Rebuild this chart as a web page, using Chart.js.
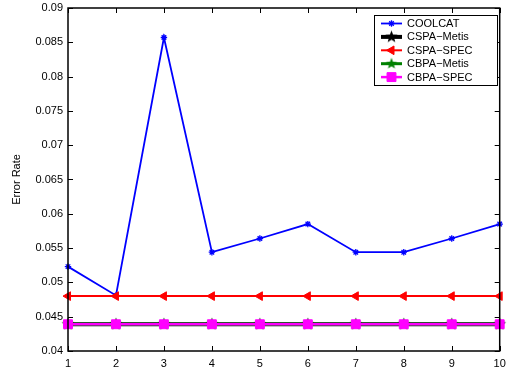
<!DOCTYPE html>
<html>
<head>
<meta charset="utf-8">
<script src="https://cdn.jsdelivr.net/npm/chart.js@4/dist/chart.umd.min.js"></script>
<style>
  html, body { margin: 0; padding: 0; background: #fff; }
  #wrap { width: 507px; height: 375px; }
</style>
</head>
<body>
<div id="wrap"><canvas id="c" width="507" height="375"></canvas></div>
<script>
// data
const runs = ['1', '2', '3', '4', '5', '6', '7', '8', '9', '10'];
const coolcat   = [0.0523, 0.0481, 0.0857, 0.0544, 0.0564, 0.0585, 0.0544, 0.0544, 0.0564, 0.0585];
const cspaMetis = [0.0439, 0.0439, 0.0439, 0.0439, 0.0439, 0.0439, 0.0439, 0.0439, 0.0439, 0.0439];
const cspaSpec  = [0.0480, 0.0480, 0.0480, 0.0480, 0.0480, 0.0480, 0.0480, 0.0480, 0.0480, 0.0480];
const cbpaMetis = [0.0439, 0.0439, 0.0439, 0.0439, 0.0439, 0.0439, 0.0439, 0.0439, 0.0439, 0.0439];
const cbpaSpec  = [0.0439, 0.0439, 0.0439, 0.0439, 0.0439, 0.0439, 0.0439, 0.0439, 0.0439, 0.0439];
const yTicks = [0.04, 0.045, 0.05, 0.055, 0.06, 0.065, 0.07, 0.075, 0.08, 0.085, 0.09];

const FONT = '"Liberation Sans", Arial, sans-serif';

// filled pentagram as a marker image
function pentagram(r, color) {
  const cv = document.createElement('canvas');
  cv.width = cv.height = Math.ceil(r * 2 + 2);
  const g = cv.getContext('2d');
  const c = cv.width / 2;
  g.beginPath();
  for (let i = 0; i < 10; i++) {
    const rr = i % 2 === 0 ? r : r * 0.42;
    const a = -Math.PI / 2 + i * Math.PI / 5;
    const px = c + rr * Math.cos(a), py = c + rr * Math.sin(a);
    i === 0 ? g.moveTo(px, py) : g.lineTo(px, py);
  }
  g.closePath();
  g.fillStyle = color;
  g.fill();
  return cv;
}

const blackStar = pentagram(6.5, '#000000');
const greenStar = pentagram(6, '#008000');

// matlab style box, inward ticks and the legend
const boxPlugin = {
  id: 'box',
  afterDraw(chart) {
    const { ctx, chartArea: a, scales } = chart;
    ctx.save();
    ctx.strokeStyle = '#000';
    ctx.lineWidth = 1;
    ctx.beginPath();
    runs.forEach((_, i) => {
      const px = Math.round(scales.x.getPixelForValue(i)) + 0.5;
      ctx.moveTo(px, a.bottom); ctx.lineTo(px, a.bottom - 5);
      ctx.moveTo(px, a.top); ctx.lineTo(px, a.top + 5);
    });
    yTicks.forEach(v => {
      const py = Math.round(scales.y.getPixelForValue(v)) + 0.5;
      ctx.moveTo(a.left, py); ctx.lineTo(a.left + 5, py);
      ctx.moveTo(a.right, py); ctx.lineTo(a.right - 5, py);
    });
    ctx.stroke();
    ctx.lineWidth = 1.5;
    ctx.strokeRect(a.left, a.top, a.right - a.left, a.bottom - a.top);

    // legend
    const lx = 374, ly = 15, lw = 123, lh = 70;
    ctx.fillStyle = '#fff';
    ctx.fillRect(lx, ly, lw, lh);
    ctx.lineWidth = 1;
    ctx.strokeRect(lx + 0.5, ly + 0.5, lw, lh);
    ctx.font = '11px ' + FONT;
    ctx.textBaseline = 'middle';
    chart.data.datasets.forEach((ds, i) => {
      const y = ly + 8.5 + i * 13.4;
      ctx.strokeStyle = ds.borderColor;
      ctx.lineWidth = ds.borderWidth;
      ctx.beginPath();
      ctx.moveTo(381, y); ctx.lineTo(402, y);
      ctx.stroke();
      ctx.fillStyle = ds.pointBackgroundColor;
      ctx.strokeStyle = ds.pointBorderColor;
      ctx.lineWidth = ds.pointBorderWidth || 1;
      Chart.helpers.drawPoint(ctx, {
        pointStyle: ds.pointStyle,
        radius: ds.pointRadius,
        rotation: ds.pointRotation || 0,
        borderWidth: ds.pointBorderWidth
      }, 391.5, y);
      ctx.fillStyle = '#000';
      ctx.fillText(ds.label, 407, y + 0.5);
    });
    ctx.restore();
  }
};

new Chart(document.getElementById('c'), {
  type: 'line',
  data: {
    labels: runs,
    datasets: [
      { label: 'COOLCAT', data: coolcat, borderColor: '#0000ff', borderWidth: 1.8,
        pointStyle: 'star', pointRadius: 3.2, pointBorderWidth: 1.3,
        pointBorderColor: '#0000ff', pointBackgroundColor: '#0000ff', order: 5 },
      { label: 'CSPA\u2212Metis', data: cspaMetis, borderColor: '#000000', borderWidth: 4,
        pointStyle: blackStar, pointRadius: 6.5, pointBorderWidth: 0,
        pointBorderColor: '#000000', pointBackgroundColor: '#000000', order: 4 },
      { label: 'CSPA\u2212SPEC', data: cspaSpec, borderColor: '#ff0000', borderWidth: 2,
        pointStyle: 'triangle', pointRotation: -90, pointRadius: 5, pointBorderWidth: 1,
        pointBorderColor: '#ff0000', pointBackgroundColor: '#ff0000', order: 3 },
      { label: 'CBPA\u2212Metis', data: cbpaMetis, borderColor: '#008000', borderWidth: 3,
        pointStyle: greenStar, pointRadius: 6, pointBorderWidth: 0,
        pointBorderColor: '#008000', pointBackgroundColor: '#008000', order: 2 },
      { label: 'CBPA\u2212SPEC', data: cbpaSpec, borderColor: '#ff00ff', borderWidth: 2.5,
        pointStyle: 'rect', pointRadius: 6.3, pointBorderWidth: 1,
        pointBorderColor: '#ff00ff', pointBackgroundColor: '#ff00ff', order: 1 }
    ].map(ds => Object.assign(ds, { tension: 0, fill: false, clip: false }))
  },
  options: {
    responsive: false,
    animation: false,
    layout: { padding: { top: 8, right: 4, left: 0, bottom: 0 } },
    plugins: { legend: { display: false }, tooltip: { enabled: false } },
    scales: {
      x: {
        offset: false,
        grid: { display: false, drawTicks: false },
        border: { display: false },
        ticks: { color: '#000', font: { family: FONT, size: 11 }, padding: 6, maxRotation: 0, autoSkip: false },
        afterFit: s => { s.height = 24; s.paddingLeft = 0; s.paddingRight = 0; }
      },
      y: {
        min: 0.04, max: 0.09,
        afterBuildTicks: s => { s.ticks = yTicks.map(v => ({ value: v })); },
        grid: { display: false, drawTicks: false },
        border: { display: false },
        ticks: {
          color: '#000', font: { family: FONT, size: 11 }, padding: 5,
          callback: v => String(Number(v.toFixed(3)))
        },
        title: { display: true, text: 'Error Rate', color: '#000', font: { family: FONT, size: 11 }, padding: { top: 10, bottom: 4 } },
        afterFit: s => { s.width = 68; s.paddingTop = 0; s.paddingBottom = 0; }
      }
    }
  },
  plugins: [boxPlugin]
});
</script>
</body>
</html>
